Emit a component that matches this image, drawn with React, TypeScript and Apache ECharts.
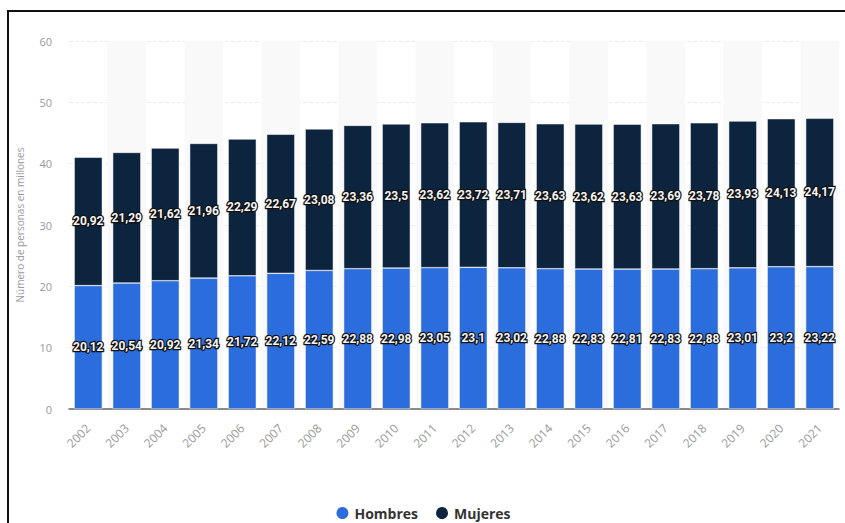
import React, { useEffect, useRef } from "react";
import * as echarts from "echarts";

const years = ["2002","2003","2004","2005","2006","2007","2008","2009","2010","2011","2012","2013","2014","2015","2016","2017","2018","2019","2020","2021"];
const hombres = [20.12, 20.54, 20.92, 21.34, 21.72, 22.12, 22.59, 22.88, 22.98, 23.05, 23.1, 23.02, 22.88, 22.83, 22.81, 22.83, 22.88, 23.01, 23.2, 23.22];
const mujeres = [20.92, 21.29, 21.62, 21.96, 22.29, 22.67, 23.08, 23.36, 23.5, 23.62, 23.72, 23.71, 23.63, 23.62, 23.63, 23.69, 23.78, 23.93, 24.13, 24.17];
const yTicks = [0, 10, 20, 30, 40, 50, 60];

const fmt = (p: any) => String(p.value).replace(".", ",");

export default function App() {
  const ref = useRef<HTMLDivElement>(null);
  useEffect(() => {
    const chart = echarts.init(ref.current!, null, { renderer: "svg" });
    const label = {
      show: true,
      position: "inside",
      formatter: fmt,
      color: "#f4f4f4",
      fontFamily: "Roboto",
      fontWeight: "bold",
      fontSize: 12,
      textBorderColor: "#111",
      textBorderWidth: 2.5,
    };
    chart.setOption({
      animation: false,
      backgroundColor: "#fff",
      grid: { left: 69, right: 6, top: 41, bottom: 114 },
      legend: {
        top: 500,
        left: "center",
        icon: "circle",
        itemWidth: 14,
        itemHeight: 14,
        itemGap: 16,
        textStyle: { color: "#333", fontWeight: "bold", fontSize: 14, fontFamily: "Open Sans" },
        data: ["Hombres", "Mujeres"],
      },
      xAxis: {
        type: "category",
        data: years,
        axisLine: { lineStyle: { color: "#666", width: 1.5 } },
        axisTick: { show: false },
        axisLabel: { rotate: 45, color: "#999", fontSize: 12, margin: 17, fontFamily: "Open Sans" },
        splitArea: { show: true, areaStyle: { color: ["rgba(255,255,255,0)", "#f9f9f9"] } },
      },
      yAxis: {
        type: "value",
        min: yTicks[0],
        max: yTicks[yTicks.length - 1],
        interval: 10,
        name: "Número de personas en millones",
        nameLocation: "middle",
        nameGap: 44,
        nameTextStyle: { color: "#999", fontSize: 10, fontFamily: "Open Sans" },
        axisLabel: { color: "#999", fontSize: 11, margin: 17, fontFamily: "Open Sans" },
        splitLine: { lineStyle: { color: "#ebebeb", type: "dashed" } },
        axisLine: { show: false },
        axisTick: { show: false },
      },
      series: [
        {
          name: "Hombres",
          type: "bar",
          stack: "a",
          data: hombres,
          barWidth: "73%",
          itemStyle: { color: "#2b6ddc", borderColor: "#fff", borderWidth: 0.5 },
          label,
        },
        {
          name: "Mujeres",
          type: "bar",
          stack: "a",
          data: mujeres,
          barWidth: "73%",
          itemStyle: { color: "#0d243f", borderColor: "#fff", borderWidth: 0.5 },
          label,
        },
      ],
    });
    return () => chart.dispose();
  }, []);
  return (
    <>
      <div ref={ref} style={{ position: "fixed", left: 0, top: 0, width: 845, height: 523 }} />
      <div
        style={{
          position: "fixed",
          left: 7,
          top: 10,
          width: 850,
          height: 530,
          border: "2px solid #111",
          pointerEvents: "none",
        }}
      />
    </>
  );
}
